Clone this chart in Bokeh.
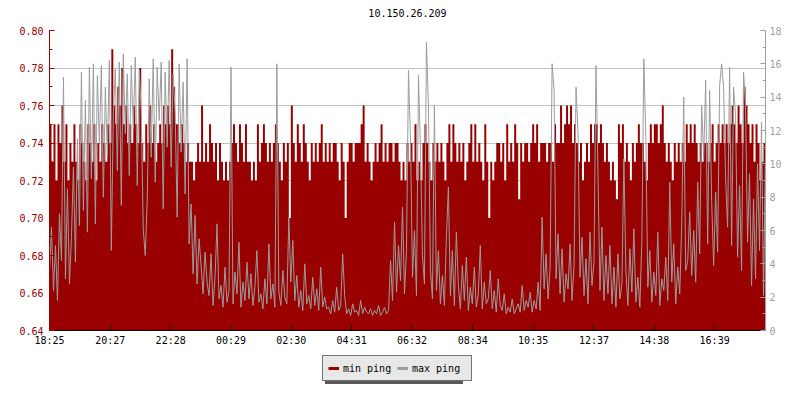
from bokeh.plotting import figure
from bokeh.layouts import column
from bokeh.models import (Range1d, LinearAxis, FixedTicker, NumeralTickFormatter,
                          Legend, LegendItem)
from bokeh.core.properties import value
from bokeh.embed import file_html
from bokeh.resources import INLINE

title_text = "10.150.26.209"
x_tick_labels = ["18:25", "20:27", "22:28", "00:29", "02:30", "04:31",
                 "06:32", "08:34", "10:35", "12:37", "14:38", "16:39"]
left_ticks = [0.64, 0.66, 0.68, 0.70, 0.72, 0.74, 0.76, 0.78, 0.80]
left_minor = [0.65, 0.67, 0.69, 0.71, 0.73, 0.75, 0.77, 0.79]
right_ticks = [0, 2, 4, 6, 8, 10, 12, 14, 16, 18]
right_minor = [1, 3, 5, 7, 9, 11, 13, 15, 17]
series_names = ["min ping", "max ping"]
sample_minutes = 4

min_ping = [
    0.75,0.73,0.75,0.72,0.75,0.74,0.76,0.73,0.75,0.72,0.74,0.73,0.75,0.73,0.72,0.75,0.74,0.73,0.72,0.75,
    0.74,0.73,0.75,0.72,0.74,0.73,0.75,0.74,0.73,0.75,0.74,0.79,0.76,0.75,0.77,0.76,0.78,0.75,0.76,0.74,
    0.75,0.74,0.76,0.75,0.74,0.78,0.74,0.73,0.75,0.74,0.76,0.74,0.75,0.73,0.74,0.75,0.74,0.76,0.75,0.76,
    0.75,0.79,0.77,0.75,0.75,0.74,0.75,0.74,0.73,0.74,0.73,0.73,0.72,0.73,0.74,0.73,0.76,0.73,0.74,0.73,
    0.75,0.74,0.73,0.74,0.72,0.74,0.73,0.72,0.73,0.72,0.73,0.74,0.75,0.74,0.73,0.75,0.74,0.73,0.75,0.73,
    0.73,0.72,0.73,0.72,0.75,0.73,0.74,0.75,0.74,0.73,0.74,0.73,0.74,0.75,0.74,0.73,0.72,0.74,0.73,0.74,
    0.70,0.76,0.74,0.73,0.75,0.74,0.73,0.75,0.74,0.73,0.72,0.74,0.73,0.74,0.73,0.74,0.75,0.73,0.74,0.73,
    0.74,0.73,0.74,0.74,0.73,0.72,0.74,0.73,0.70,0.73,0.74,0.74,0.73,0.74,0.74,0.74,0.75,0.76,0.73,0.74,
    0.73,0.72,0.73,0.74,0.73,0.74,0.75,0.73,0.74,0.73,0.74,0.74,0.73,0.74,0.74,0.73,0.72,0.73,0.72,0.74,
    0.73,0.74,0.73,0.75,0.72,0.73,0.72,0.74,0.75,0.74,0.73,0.72,0.74,0.73,0.74,0.73,0.74,0.73,0.72,0.74,
    0.75,0.73,0.75,0.74,0.73,0.74,0.73,0.74,0.72,0.73,0.74,0.75,0.73,0.75,0.73,0.74,0.73,0.72,0.75,0.73,
    0.70,0.73,0.72,0.73,0.74,0.74,0.73,0.74,0.72,0.75,0.73,0.74,0.73,0.75,0.74,0.71,0.74,0.73,0.74,0.74,
    0.73,0.74,0.75,0.74,0.75,0.73,0.74,0.74,0.74,0.73,0.74,0.74,0.73,0.75,0.74,0.74,0.76,0.74,0.75,0.76,
    0.75,0.76,0.74,0.75,0.74,0.73,0.74,0.72,0.73,0.74,0.73,0.75,0.74,0.75,0.75,0.74,0.75,0.74,0.73,0.74,
    0.73,0.72,0.73,0.72,0.71,0.75,0.74,0.75,0.73,0.74,0.73,0.72,0.74,0.73,0.74,0.75,0.74,0.74,0.73,0.72,
    0.74,0.75,0.74,0.75,0.75,0.74,0.75,0.76,0.74,0.73,0.74,0.73,0.72,0.74,0.73,0.74,0.73,0.74,0.73,0.75,
    0.74,0.75,0.74,0.75,0.74,0.73,0.74,0.73,0.74,0.74,0.73,0.74,0.75,0.73,0.74,0.75,0.74,0.75,0.74,0.75,
    0.74,0.75,0.76,0.75,0.74,0.76,0.75,0.74,0.77,0.76,0.75,0.74,0.75,0.73,0.75,0.74,0.72,0.73,0.74,0.73,
]

max_ping = [
    3.5,6.2,2.4,5.1,1.8,7.0,4.2,15.2,3.1,8.5,2.8,5.6,9.8,4.1,11.5,6.3,15.5,7.2,13.8,5.9,
    15.8,9.1,16.0,6.4,15.3,11.2,15.9,8.0,14.6,10.5,16.2,4.8,12.9,15.7,9.6,16.1,7.5,16.6,11.8,15.4,
    9.3,15.9,12.1,16.4,8.7,15.6,13.2,6.1,4.5,7.8,15.1,10.4,16.3,8.9,15.8,12.6,16.1,7.3,15.5,11.0,
    16.2,9.8,15.4,13.1,6.8,16.0,10.7,14.9,8.2,16.3,5.2,7.6,3.4,6.9,2.8,5.5,3.9,2.2,4.7,2.9,
    2.1,4.6,1.5,3.2,6.4,1.9,2.7,1.4,3.8,1.7,2.4,15.8,1.6,3.5,2.2,5.3,1.4,2.9,1.8,4.1,
    1.9,3.4,1.5,2.6,4.8,1.7,2.2,1.3,3.1,1.6,5.2,1.9,2.8,1.4,16.0,2.3,1.5,3.6,2.0,1.6,
    6.8,2.9,5.4,1.8,3.3,1.4,2.4,1.2,4.0,1.6,2.1,1.3,3.2,1.5,2.5,1.2,3.8,1.4,2.0,1.3,
    1.4,1.0,1.8,1.1,2.6,1.2,1.5,4.6,2.1,1.0,1.3,0.9,1.6,1.1,1.2,0.9,1.8,1.0,1.4,1.1,
    1.0,1.3,0.9,1.2,1.0,1.5,0.9,1.1,1.4,1.0,1.2,4.2,1.8,6.5,2.3,5.1,3.0,7.4,2.2,4.8,
    15.6,11.4,3.2,6.0,2.1,15.3,10.9,4.5,2.8,17.3,13.5,3.6,1.9,13.5,2.4,4.8,1.6,3.3,1.5,5.6,
    8.6,2.1,4.8,1.5,5.9,2.7,1.3,3.9,1.8,4.4,1.2,2.6,1.6,3.8,1.4,2.2,5.1,1.3,2.9,1.6,
    1.9,3.6,1.3,2.4,1.1,3.1,1.5,1.2,2.2,1.0,1.4,1.1,1.9,1.0,1.3,1.6,1.1,2.7,1.2,1.8,
    1.4,2.3,1.1,1.8,1.3,2.9,1.2,6.8,2.5,4.6,1.9,3.7,16.0,14.4,3.1,5.8,2.2,4.9,1.7,3.4,
    2.5,5.2,1.8,3.9,14.6,11.9,3.2,5.6,2.1,4.3,1.6,5.9,2.7,4.1,15.9,9.5,2.4,6.2,1.8,4.5,
    2.2,5.1,1.6,3.8,1.4,4.6,1.9,2.8,10.3,3.6,1.5,4.9,2.3,6.1,1.7,3.2,1.4,5.4,16.3,11.6,
    2.6,4.8,1.7,3.5,2.1,5.9,1.5,3.1,2.4,4.4,1.8,8.9,2.9,5.2,1.6,3.8,2.2,6.4,14.0,3.6,
    4.2,7.1,3.3,6.0,2.9,8.9,4.6,13.5,10.3,15.0,5.2,14.4,7.8,3.9,8.3,4.7,14.7,16.0,14.6,9.1,
    6.2,15.8,5.1,14.6,12.9,4.4,8.7,3.6,15.5,13.5,5.3,9.4,2.7,7.9,3.1,10.0,4.8,12.5,2.1,10.7,
]

RED = "#990000"
GRAY = "#9c9c9c"
FONT = "DejaVu Sans Mono"
FSIZE = "10px"
W = 784
BL, BR = 49, 17

t = [i * sample_minutes for i in range(len(min_ping))]


def to_min(s):
    h, m = s.split(":")
    return int(h) * 60 + int(m)


start = to_min(x_tick_labels[0])
tick_pos = [(to_min(s) - start) % 1440 for s in x_tick_labels]


def strip(height):
    f = figure(width=W, height=height, output_backend="svg", toolbar_location=None,
               x_range=Range1d(0, 1), y_range=Range1d(0, height),
               min_border_left=BL, min_border_right=BR, min_border_top=0,
               min_border_bottom=0, outline_line_color=None,
               background_fill_color="white", border_fill_color="white")
    f.axis.visible = False
    f.grid.visible = False
    return f


# title strip
title_fig = strip(22)
title_fig.text(x=[0.5], y=[10], text=[title_text], text_align="center",
               text_baseline="middle", text_font=value(FONT),
               text_font_size=FSIZE, text_color="black")

# main chart
p = figure(width=W, height=328, output_backend="svg", toolbar_location=None,
           x_range=Range1d(t[0], t[-1]),
           y_range=Range1d(left_ticks[0], left_ticks[-1]),
           min_border_left=BL, min_border_right=BR, min_border_top=8,
           min_border_bottom=20, outline_line_color=None,
           background_fill_color="white", border_fill_color="white")
p.extra_y_ranges = {"maxr": Range1d(right_ticks[0], right_ticks[-1])}

p.varea_step(x=t, y1=left_ticks[0], y2=min_ping, step_mode="after",
             fill_color=RED, fill_alpha=1)
p.line(x=t, y=max_ping, y_range_name="maxr", line_color=GRAY, line_width=1)

ax = p.yaxis[0]
ax.ticker = FixedTicker(ticks=left_ticks, minor_ticks=left_minor)
ax.formatter = NumeralTickFormatter(format="0.00")
for prop in ("axis_line_color", "major_tick_line_color", "minor_tick_line_color",
             "major_label_text_color"):
    setattr(ax, prop, RED)
ax.major_tick_in = 5
ax.major_tick_out = 0
ax.minor_tick_in = 3
ax.minor_tick_out = 0
ax.major_label_standoff = 6
ax.major_label_text_font = FONT
ax.major_label_text_font_size = FSIZE

rax = LinearAxis(y_range_name="maxr",
                 ticker=FixedTicker(ticks=right_ticks, minor_ticks=right_minor))
for prop in ("axis_line_color", "major_tick_line_color", "minor_tick_line_color",
             "major_label_text_color"):
    setattr(rax, prop, "#a0a0a0")
rax.major_tick_in = 5
rax.major_tick_out = 0
rax.minor_tick_in = 3
rax.minor_tick_out = 0
rax.major_label_standoff = 4
rax.major_label_text_font = FONT
rax.major_label_text_font_size = FSIZE
p.add_layout(rax, "right")

xa = p.xaxis[0]
xa.ticker = FixedTicker(ticks=tick_pos)
xa.major_label_overrides = {pos: lab for pos, lab in zip(tick_pos, x_tick_labels)}
xa.axis_line_color = "black"
xa.major_tick_line_color = "black"
xa.major_tick_in = 5
xa.major_tick_out = 0
xa.minor_tick_line_color = None
xa.major_label_standoff = 4
xa.major_label_text_font = FONT
xa.major_label_text_font_size = FSIZE
xa.major_label_text_color = "black"

p.xgrid.visible = False
p.ygrid.ticker = FixedTicker(ticks=left_ticks)
p.ygrid.grid_line_color = "#c4c4c4"

# legend strip
lg_fig = strip(34)
nan = float("nan")
lr_min = lg_fig.line(x=[nan, nan], y=[nan, nan], line_color=RED, line_width=3)
lr_max = lg_fig.line(x=[nan, nan], y=[nan, nan], line_color=GRAY, line_width=3)


def make_legend(loc, labels, bg, border):
    return Legend(items=[LegendItem(label=labels[0], renderers=[lr_min]),
                         LegendItem(label=labels[1], renderers=[lr_max])],
                  location=loc, orientation="horizontal",
                  label_text_font=FONT, label_text_font_size=FSIZE,
                  label_text_color="black",
                  glyph_width=11, glyph_height=14, label_height=14,
                  label_width=54, label_standoff=4, spacing=0, padding=5,
                  margin=0, background_fill_color=bg, background_fill_alpha=1,
                  border_line_color=border, border_line_width=1)


lg_fig.add_layout(make_legend((276, 0), [" ", " "], "#5a5a5a", None))
lg_fig.add_layout(make_legend((273, 3), series_names, "#e8e8e8", "black"))

layout = column(title_fig, p, lg_fig, spacing=0)
open("out.html", "w").write(file_html(layout, INLINE))
